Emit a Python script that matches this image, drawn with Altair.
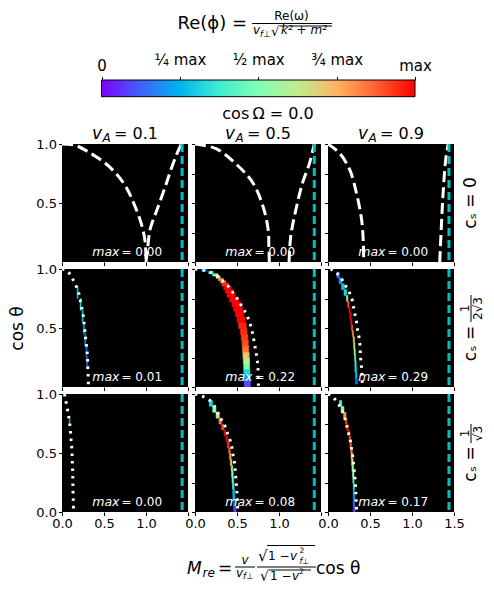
import altair as alt
import numpy as np
import pandas as pd

# ---------------- colour map (matplotlib "rainbow") ----------------
RAINBOW_STOPS = [0.0, 0.125, 0.25, 0.375, 0.5, 0.625, 0.75, 0.875, 1.0]
RAINBOW = ["#8000ff", "#4062fa", "#00b4ec", "#40ecd4", "#80ffb4",
           "#bfec8e", "#ffb462", "#ff6232", "#ff0000"]

# ---------------- panel labels / annotations ----------------
COL_VA = ["0.1", "0.5", "0.9"]
MAX_TXT = [["0.00", "0.00", "0.00"],
           ["0.01", "0.22", "0.29"],
           ["0.00", "0.08", "0.17"]]
CYAN_X = [1.43, 1.42, 1.44]
X_LIM = [0.0, 1.5]
Y_LIM = [0.0, 1.0]
X_TICKS = [0.0, 0.5, 1.0, 1.5]
CB_LIM = [0.0, 1.0]
CB_TICKS = [0.0, 0.25, 0.5, 0.75, 1.0]
CB_LABELS = ["0", "¼ max", "½ max", "¾ max", "max"]

# ---------------- row 1 (c_s = 0): dashed curves ----------------
R1C1_A_X = [0.0, 0.15, 0.32, 0.56, 0.75, 0.87, 0.95, 0.99, 1.0]
R1C1_A_Y = [1.0, 0.99, 0.93, 0.81, 0.65, 0.47, 0.31, 0.17, 0.0]
R1C1_B_X = [1.0, 1.02, 1.05, 1.13, 1.23, 1.31, 1.37, 1.42]
R1C1_B_Y = [0.0, 0.12, 0.28, 0.44, 0.64, 0.81, 0.92, 1.0]

R1C2_A_X = [0.0, 0.25, 0.49, 0.69, 0.81, 0.87, 0.88, 0.885]
R1C2_A_Y = [1.0, 0.96, 0.83, 0.67, 0.47, 0.28, 0.11, 0.0]
R1C2_B_X = [1.12, 1.14, 1.20, 1.28, 1.36, 1.42]
R1C2_B_Y = [0.0, 0.22, 0.44, 0.67, 0.83, 1.0]

R1C3_A_X = [0.0, 0.14, 0.26, 0.34, 0.40, 0.42, 0.425]
R1C3_A_Y = [1.0, 0.92, 0.78, 0.58, 0.36, 0.17, 0.0]
R1C3_B_X = [1.33, 1.35, 1.37, 1.40, 1.43]
R1C3_B_Y = [0.0, 0.31, 0.58, 0.86, 1.0]

# ---------------- rows 2, 3: dotted curves ----------------
R2C1_X = [0.0, 0.05, 0.11, 0.15, 0.19, 0.21, 0.23, 0.25, 0.26, 0.27, 0.28, 0.29, 0.30, 0.305, 0.31, 0.315]
R2C1_Y = [1.0, 0.99, 0.94, 0.88, 0.82, 0.76, 0.69, 0.62, 0.56, 0.49, 0.42, 0.36, 0.29, 0.22, 0.12, 0.0]
R2C2_X = [0.0, 0.10, 0.19, 0.27, 0.34, 0.40, 0.46, 0.51, 0.56, 0.61, 0.65, 0.68, 0.70, 0.72, 0.74, 0.75, 0.755]
R2C2_Y = [1.0, 0.99, 0.97, 0.94, 0.89, 0.85, 0.79, 0.74, 0.68, 0.62, 0.55, 0.47, 0.40, 0.32, 0.23, 0.15, 0.0]
R2C3_X = [0.03, 0.08, 0.15, 0.19, 0.24, 0.28, 0.30, 0.32, 0.34, 0.35, 0.37, 0.38, 0.385, 0.39, 0.40, 0.405, 0.41]
R2C3_Y = [1.0, 0.98, 0.93, 0.88, 0.82, 0.76, 0.69, 0.62, 0.55, 0.49, 0.42, 0.36, 0.29, 0.23, 0.16, 0.08, 0.0]

R3C1_X = [0.03, 0.04, 0.06, 0.075, 0.09, 0.10, 0.107, 0.115, 0.12, 0.123, 0.127, 0.129, 0.13, 0.132, 0.135, 0.136]
R3C1_Y = [1.0, 0.96, 0.89, 0.83, 0.76, 0.69, 0.62, 0.56, 0.49, 0.42, 0.35, 0.28, 0.22, 0.15, 0.08, 0.0]
R3C2_X = [0.0, 0.05, 0.12, 0.20, 0.29, 0.35, 0.39, 0.43, 0.45, 0.47, 0.48, 0.49, 0.50, 0.505, 0.51]
R3C2_Y = [1.0, 0.99, 0.97, 0.93, 0.81, 0.74, 0.66, 0.58, 0.50, 0.42, 0.34, 0.25, 0.16, 0.09, 0.0]
R3C3_X = [0.0, 0.05, 0.11, 0.16, 0.19, 0.22, 0.245, 0.265, 0.28, 0.295, 0.305, 0.315, 0.325, 0.33, 0.335, 0.34]
R3C3_Y = [1.0, 0.98, 0.93, 0.87, 0.82, 0.74, 0.67, 0.61, 0.54, 0.47, 0.40, 0.33, 0.25, 0.18, 0.11, 0.0]

# ---------------- coloured bands (value = fraction of panel max) ----------------
B21_Y = [0.80, 0.70, 0.60, 0.50, 0.40, 0.30, 0.20]
B21_XL = [0.180, 0.215, 0.240, 0.255, 0.270, 0.285, 0.295]
B21_XR = [0.192, 0.227, 0.252, 0.267, 0.282, 0.297, 0.307]
B21_V = [0.30, 0.35, 0.30, 0.25, 0.20, 0.15, 0.10]

B22_Y = [0.99, 0.97, 0.95, 0.93, 0.91, 0.89, 0.87, 0.84, 0.81, 0.78,
         0.74, 0.70, 0.66, 0.62, 0.57, 0.52, 0.47, 0.42, 0.37, 0.32,
         0.27, 0.22, 0.17, 0.12, 0.07, 0.02]
B22_XL = [0.08, 0.16, 0.21, 0.25, 0.28, 0.30, 0.32, 0.34, 0.36, 0.38,
          0.41, 0.44, 0.46, 0.48, 0.50, 0.52, 0.54, 0.55, 0.56, 0.565,
          0.57, 0.575, 0.58, 0.58, 0.585, 0.585]
B22_XR = [0.14, 0.22, 0.27, 0.30, 0.34, 0.37, 0.40, 0.43, 0.46, 0.48,
          0.52, 0.545, 0.565, 0.58, 0.60, 0.61, 0.62, 0.63, 0.635, 0.64,
          0.645, 0.65, 0.65, 0.655, 0.66, 0.66]
B22_V = [0.15, 0.30, 0.50, 0.65, 0.80, 0.90, 0.97, 1.0, 1.0, 1.0,
         1.0, 1.0, 1.0, 1.0, 1.0, 0.98, 0.97, 0.95, 0.92, 0.85,
         0.72, 0.60, 0.48, 0.35, 0.20, 0.05]

B23_Y = [0.95, 0.90, 0.85, 0.80, 0.75, 0.70, 0.65, 0.60, 0.55, 0.50,
         0.45, 0.40, 0.35, 0.30, 0.25, 0.20, 0.15, 0.10, 0.05]
B23_XL = [0.105, 0.13, 0.16, 0.19, 0.22, 0.235, 0.25, 0.26, 0.27, 0.28,
          0.29, 0.30, 0.305, 0.31, 0.315, 0.32, 0.32, 0.325, 0.325]
B23_XR = [0.135, 0.165, 0.195, 0.222, 0.237, 0.25, 0.265, 0.275, 0.285, 0.295,
          0.305, 0.315, 0.32, 0.325, 0.33, 0.335, 0.34, 0.345, 0.35]
B23_V = [0.10, 0.20, 0.30, 0.35, 0.60, 0.90, 1.0, 1.0, 1.0, 0.90,
         0.80, 0.70, 0.65, 0.55, 0.50, 0.40, 0.35, 0.25, 0.15]

B31_Y = [0.76]
B31_XL = [0.085]
B31_XR = [0.097]
B31_V = [0.25]

B32_Y = [0.92, 0.87, 0.82, 0.77, 0.72, 0.67, 0.62, 0.57, 0.52, 0.47,
         0.42, 0.37, 0.32, 0.27, 0.22, 0.17, 0.12, 0.07, 0.02]
B32_XL = [0.17, 0.21, 0.25, 0.285, 0.315, 0.345, 0.37, 0.385, 0.40, 0.41,
          0.42, 0.43, 0.435, 0.44, 0.445, 0.45, 0.45, 0.455, 0.46]
B32_XR = [0.21, 0.25, 0.29, 0.315, 0.345, 0.365, 0.39, 0.405, 0.42, 0.43,
          0.44, 0.45, 0.455, 0.46, 0.465, 0.47, 0.475, 0.48, 0.49]
B32_V = [0.35, 0.50, 0.65, 0.85, 0.95, 1.0, 1.0, 0.95, 0.90, 0.80,
         0.70, 0.60, 0.50, 0.45, 0.40, 0.30, 0.25, 0.15, 0.05]

B33_Y = [0.92, 0.87, 0.82, 0.77, 0.72, 0.67, 0.62, 0.57, 0.52, 0.47,
         0.42, 0.37, 0.32, 0.27, 0.22, 0.17, 0.12, 0.07, 0.02]
B33_XL = [0.135, 0.155, 0.185, 0.205, 0.22, 0.235, 0.25, 0.26, 0.27, 0.275,
          0.28, 0.285, 0.29, 0.295, 0.30, 0.30, 0.30, 0.30, 0.30]
B33_XR = [0.165, 0.19, 0.215, 0.225, 0.24, 0.255, 0.27, 0.28, 0.29, 0.295,
          0.30, 0.305, 0.31, 0.31, 0.315, 0.315, 0.32, 0.32, 0.325]
B33_V = [0.40, 0.55, 0.80, 0.95, 1.0, 1.0, 0.95, 0.90, 0.85, 0.75,
         0.65, 0.55, 0.50, 0.42, 0.35, 0.28, 0.20, 0.12, 0.03]

DASHED = {
    0: [(R1C1_A_X, R1C1_A_Y), (R1C1_B_X, R1C1_B_Y)],
    1: [(R1C2_A_X, R1C2_A_Y), (R1C2_B_X, R1C2_B_Y)],
    2: [(R1C3_A_X, R1C3_A_Y), (R1C3_B_X, R1C3_B_Y)],
}
DOTTED = {
    (1, 0): (R2C1_X, R2C1_Y), (1, 1): (R2C2_X, R2C2_Y), (1, 2): (R2C3_X, R2C3_Y),
    (2, 0): (R3C1_X, R3C1_Y), (2, 1): (R3C2_X, R3C2_Y), (2, 2): (R3C3_X, R3C3_Y),
}
BANDS = {
    (1, 0): (B21_Y, B21_XL, B21_XR, B21_V), (1, 1): (B22_Y, B22_XL, B22_XR, B22_V),
    (1, 2): (B23_Y, B23_XL, B23_XR, B23_V), (2, 0): (B31_Y, B31_XL, B31_XR, B31_V),
    (2, 1): (B32_Y, B32_XL, B32_XR, B32_V), (2, 2): (B33_Y, B33_XL, B33_XR, B33_V),
}

# ---------------- styling ----------------
FONT = "DejaVu Sans"
W, H = 126, 118
XS = alt.Scale(domain=X_LIM, nice=False, zero=False)
YS = alt.Scale(domain=Y_LIM, nice=False, zero=False)
CS = alt.Scale(domain=RAINBOW_STOPS, range=RAINBOW)
CYAN = "#00bfbf"


def txt(s, x, y, size, align="left", italic=False, angle=0, color="black",
        baseline="alphabetic"):
    return alt.Chart(pd.DataFrame({"t": [s]})).mark_text(
        align=align, baseline=baseline, fontSize=size, font=FONT,
        fontStyle="italic" if italic else "normal", angle=angle, color=color
    ).encode(text="t:N", x=alt.value(x), y=alt.value(y))


def hbar(x1, x2, y, w=1):
    return alt.Chart(pd.DataFrame({"a": [0]})).mark_rule(
        color="black", strokeWidth=w).encode(
        x=alt.value(x1), x2=alt.value(x2), y=alt.value(y))


def vbar(x, y1, y2, w=1):
    return alt.Chart(pd.DataFrame({"a": [0]})).mark_rule(
        color="black", strokeWidth=w).encode(
        x=alt.value(x), y=alt.value(y1), y2=alt.value(y2))


def x_axis(r, c):
    expr = ("format(datum.value, '.1f')" if c == 2 else
            "datum.value == 1.5 ? '' : format(datum.value, '.1f')")
    return alt.Axis(values=X_TICKS, labels=(r == 2), labelExpr=expr,
                    tickSize=3.5, tickColor="black", domain=False, grid=False,
                    title=None, labelFontSize=13, labelColor="black",
                    labelFont=FONT, labelFlush=False, labelPadding=2,
                    labelOverlap=False)


def y_axis(r, c):
    if c == 0:
        vals = [0.0, 0.5, 1.0] if r == 2 else [0.5, 1.0]
        labels = True
    else:
        vals = [0.0, 0.25, 0.5, 0.75, 1.0]
        labels = False
    title = "cos θ" if (r == 1 and c == 0) else None
    return alt.Axis(values=vals, labels=labels,
                    labelExpr="format(datum.value, '.1f')",
                    tickSize=3.5, tickColor="black", domain=False, grid=False,
                    title=title, titleFontSize=17, titleFont=FONT,
                    titleFontWeight="normal", titleColor="black", titlePadding=9,
                    labelFontSize=13, labelColor="black", labelFont=FONT,
                    labelFlush=False, labelPadding=2, labelOverlap=False)


def ex(r, c, field="x:Q"):
    return alt.X(field, scale=XS, axis=x_axis(r, c))


def ey(r, c, field="y:Q"):
    return alt.Y(field, scale=YS, axis=y_axis(r, c))


def frame_layer(r, c):
    df = pd.DataFrame({"x": [X_LIM[0]], "x2": [X_LIM[1]],
                       "y": [Y_LIM[0]], "y2": [Y_LIM[1]]})
    return alt.Chart(df).mark_rect(color="black").encode(
        x=ex(r, c), x2="x2:Q", y=ey(r, c), y2="y2:Q")


def strip_edges(ys):
    ys = np.array(ys, dtype=float)
    if len(ys) == 1:
        return ys - 0.025, ys + 0.025
    mids = (ys[:-1] + ys[1:]) / 2
    top = np.concatenate([[ys[0] + (ys[0] - ys[1]) / 2], mids])
    bot = np.concatenate([mids, [ys[-1] - (ys[-2] - ys[-1]) / 2]])
    return bot, top


def band_layer(r, c):
    ys, xl, xr, v = BANDS[(r, c)]
    bot, top = strip_edges(ys)
    df = pd.DataFrame({"x": xl, "x2": xr, "y": bot, "y2": top, "v": v})
    return alt.Chart(df).mark_rect(strokeWidth=0.5, clip=True).encode(
        x=ex(r, c), x2="x2:Q", y=ey(r, c), y2="y2:Q",
        color=alt.Color("v:Q", scale=CS, legend=None),
        stroke=alt.Stroke("v:Q", scale=CS, legend=None))


def curve_layer(r, c, branches, dash, width):
    rows = []
    for b, (xs, ys) in enumerate(branches):
        for i, (xx, yy) in enumerate(zip(xs, ys)):
            rows.append({"x": xx, "y": yy, "b": b, "i": i})
    df = pd.DataFrame(rows)
    return alt.Chart(df).mark_line(
        color="white", strokeWidth=width, strokeDash=dash, strokeCap="butt",
        interpolate="catmull-rom", clip=True).encode(
        x=ex(r, c), y=ey(r, c), detail="b:N", order="i:Q")


def cyan_layer(r, c):
    return alt.Chart(pd.DataFrame({"x": [CYAN_X[c]]})).mark_rule(
        color=CYAN, strokeWidth=3, strokeDash=[8, 4]).encode(x=ex(r, c))


def max_text(r, c):
    return [txt("max", 57.5, 112, 12.5, align="right", italic=True, color="white"),
            txt("= " + MAX_TXT[r][c], 59.5, 112, 12, color="white")]


def col_title(c):
    return [txt("v", 30, -4.7, 17, italic=True),
            txt("A", 40.5, -2, 12, italic=True),
            txt("= " + COL_VA[c], 52, -4.7, 16)]


def row_label(r):
    if r == 0:
        return [txt("cₛ = 0", 143, 59, 17, align="center", baseline="middle", angle=270)]
    den = "2√3" if r == 1 else "√3"
    top, bot = (26, 53) if r == 1 else (30, 49)
    mid = (top + bot) / 2
    cy = 74.5 if r == 1 else 70
    return [txt("cₛ =", 143, cy, 17, align="center", baseline="middle", angle=270),
            vbar(143, top, bot),
            txt("1", 136.5, mid, 12, align="center", baseline="middle", angle=270),
            txt(den, 150, mid, 12, align="center", baseline="middle", angle=270)]


def header_texts():
    # positioned relative to the top-middle panel
    return [txt("Re(ϕ) =", 52, -114.7, 18, align="right"),
            txt("Re(ω)", 96.5, -124.5, 12, align="center"),
            hbar(57, 137, -120.5),
            txt("v", 58, -110, 12, italic=True),
            txt("f⊥", 65, -107, 8.5, italic=True),
            txt("√", 76, -108.5, 13),
            hbar(84.5, 137, -118),
            txt("k² + m²", 86, -110, 12, italic=True),
            txt("cos\u2009Ω = 0.0", 73, -24.7, 16, align="center")]


def footer_texts():
    # positioned relative to the bottom-middle panel
    return [txt("M", -8, 179.7, 17, italic=True),
            txt("re", 7.5, 182.5, 12, italic=True),
            txt("=", 23, 179.7, 17),
            txt("v", 50, 170, 12, align="center", italic=True),
            hbar(40, 60, 173),
            txt("v", 41, 182.5, 12, italic=True),
            txt("f⊥", 48, 185, 8.5, italic=True),
            txt("√", 63, 167, 15),
            hbar(72, 120, 151.5),
            txt("1 −", 73, 166, 12),
            txt("v", 95, 166, 12, italic=True),
            txt("2", 104.5, 158.5, 7.5),
            txt("f⊥", 104.5, 170, 8, italic=True),
            hbar(62, 121, 173),
            txt("√", 65, 186.5, 14),
            hbar(74, 116, 176),
            txt("1 −", 75, 186, 12),
            txt("v", 97, 186, 12, italic=True),
            txt("2", 104, 180, 7.5),
            txt("cos θ", 121, 179.7, 17)]


def colorbar():
    # drawn in the top-left panel with its own x scale (pixel range of the bar)
    grad = alt.Gradient(
        gradient="linear",
        stops=[alt.GradientStop(offset=o, color=col) for o, col in zip(RAINBOW_STOPS, RAINBOW)],
        x1=0, x2=1, y1=0, y2=0)
    expr = " : ".join(f"datum.value == {v} ? '{l}'" for v, l in zip(CB_TICKS, CB_LABELS)) + " : ''"
    df = pd.DataFrame({"lo": [CB_LIM[0]], "hi": [CB_LIM[1]]})
    return alt.Chart(df).mark_rect(fill=grad, stroke="black", strokeWidth=1).encode(
        x=alt.X("lo:Q", scale=alt.Scale(domain=CB_LIM, range=[39.5, 353], nice=False, zero=False),
                axis=alt.Axis(orient="top", offset=64, values=CB_TICKS, labelExpr=expr,
                              tickSize=3.5, tickColor="black", domain=False, grid=False,
                              title=None, labelFontSize=15, labelColor="black", labelFont=FONT,
                              labelFlush=False, labelBaseline="alphabetic", labelOverlap=False,
                              labelPadding={"condition": {"test": "datum.value > 0 && datum.value < 1",
                                                          "value": 12.5}, "value": 6})),
        x2="hi:Q",
        y=alt.value(-64), y2=alt.value(-47.3))


panels = []
for r in range(3):
    for c in range(3):
        layers = [frame_layer(r, c)]
        if (r, c) in BANDS:
            layers.append(band_layer(r, c))
        if r == 0:
            layers.append(curve_layer(r, c, DASHED[c], [11, 5], 3))
        else:
            layers.append(curve_layer(r, c, [DOTTED[(r, c)]], [2.5, 5], 3))
        layers.append(cyan_layer(r, c))
        layers += max_text(r, c)
        if r == 0:
            layers += col_title(c)
        if c == 2:
            layers += row_label(r)
        if (r, c) == (2, 1):
            layers += footer_texts()
        if (r, c) == (0, 1):
            layers += header_texts()
        if (r, c) == (0, 0):
            inner = alt.layer(*layers)
            pl = alt.layer(inner, colorbar()).resolve_scale(x="independent").properties(width=W, height=H)
        else:
            pl = alt.layer(*layers).properties(width=W, height=H)
        panels.append(pl)

chart = alt.concat(*panels, columns=3, spacing=7, bounds="flush").properties(
    padding={"left": 0, "top": 1, "right": 0, "bottom": 0}
).configure(font=FONT).configure_view(stroke=None)

chart.save("out.html", embed_options={"renderer": "svg", "actions": False})
